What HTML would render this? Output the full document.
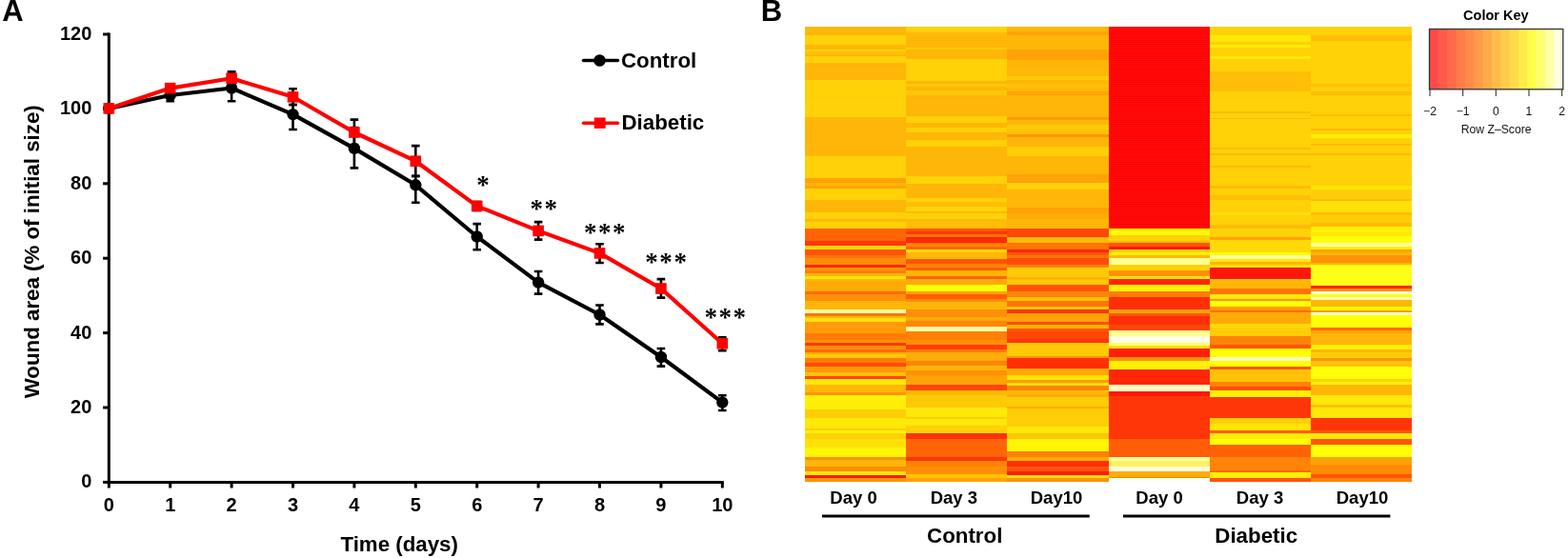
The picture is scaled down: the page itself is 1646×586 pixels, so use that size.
<!DOCTYPE html>
<html><head><meta charset="utf-8"><title>Wound healing figure</title>
<style>
html,body{margin:0;padding:0;background:#fff;width:1646px;height:586px;overflow:hidden}
svg{display:block}
text{font-family:"Liberation Sans",Arial,sans-serif;fill:#000}
.tk{font-size:20px;font-weight:bold}
.ax{font-size:22.3px;font-weight:bold}
.lg{font-size:22.3px;font-weight:bold}
.pl{font-size:31px;font-weight:bold}
.dl{font-size:18.5px;font-weight:bold}
.gl{font-size:22.3px;font-weight:bold}
.kt{font-size:12.2px;fill:#111}
.kh{font-size:14.5px;font-weight:bold}
.st{font-family:"Liberation Serif",serif;font-size:27px;font-weight:bold;letter-spacing:1.6px}
</style></head>
<body>
<svg width="1646" height="586" viewBox="0 0 1646 586">
<defs><pattern id="rows" x="0" y="27.8" width="8" height="1.91" patternUnits="userSpaceOnUse"><rect x="0" y="0" width="8" height="0.6" fill="#fff" fill-opacity="0.09"/></pattern></defs>
<g shape-rendering="crispEdges">
<rect x="845.0" y="27.8" width="106.2" height="4.3" fill="#ffb400"/>
<rect x="845.0" y="31.8" width="106.2" height="2.3" fill="#ffb800"/>
<rect x="845.0" y="33.8" width="106.2" height="3.2" fill="#ffb400"/>
<rect x="845.0" y="36.7" width="106.2" height="10.5" fill="#ffd000"/>
<rect x="845.0" y="46.9" width="106.2" height="5.8" fill="#ffb400"/>
<rect x="845.0" y="52.4" width="106.2" height="2.2" fill="#ffd000"/>
<rect x="845.0" y="54.3" width="106.2" height="2.7" fill="#ffc000"/>
<rect x="845.0" y="56.7" width="106.2" height="2.8" fill="#ffb400"/>
<rect x="845.0" y="59.2" width="106.2" height="7.1" fill="#ffd000"/>
<rect x="845.0" y="66.0" width="106.2" height="18.0" fill="#ffb400"/>
<rect x="845.0" y="83.7" width="106.2" height="39.2" fill="#ffd000"/>
<rect x="845.0" y="122.6" width="106.2" height="41.4" fill="#ffb400"/>
<rect x="845.0" y="163.7" width="106.2" height="23.9" fill="#ffd000"/>
<rect x="845.0" y="187.3" width="106.2" height="4.8" fill="#ffa000"/>
<rect x="845.0" y="191.8" width="106.2" height="3.3" fill="#ffb400"/>
<rect x="845.0" y="194.8" width="106.2" height="3.2" fill="#ffa000"/>
<rect x="845.0" y="197.7" width="106.2" height="13.0" fill="#ffd000"/>
<rect x="845.0" y="210.4" width="106.2" height="13.0" fill="#ffb400"/>
<rect x="845.0" y="223.1" width="106.2" height="7.2" fill="#ffd000"/>
<rect x="845.0" y="230.0" width="106.2" height="3.3" fill="#ffb800"/>
<rect x="845.0" y="233.0" width="106.2" height="7.1" fill="#ffd000"/>
<rect x="845.0" y="239.8" width="106.2" height="13.0" fill="#ff6000"/>
<rect x="845.0" y="252.5" width="106.2" height="6.2" fill="#ff3000"/>
<rect x="845.0" y="258.4" width="106.2" height="3.8" fill="#ffd400"/>
<rect x="845.0" y="261.9" width="106.2" height="6.4" fill="#ff5000"/>
<rect x="845.0" y="268.0" width="106.2" height="3.2" fill="#ff7000"/>
<rect x="845.0" y="270.9" width="106.2" height="7.1" fill="#ff8800"/>
<rect x="845.0" y="277.7" width="106.2" height="3.2" fill="#ff2000"/>
<rect x="845.0" y="280.6" width="106.2" height="3.3" fill="#ff9000"/>
<rect x="845.0" y="283.6" width="106.2" height="3.2" fill="#ff7800"/>
<rect x="845.0" y="286.5" width="106.2" height="3.3" fill="#ffb400"/>
<rect x="845.0" y="289.5" width="106.2" height="4.2" fill="#ffe000"/>
<rect x="845.0" y="293.4" width="106.2" height="2.2" fill="#ffb400"/>
<rect x="845.0" y="295.3" width="106.2" height="11.1" fill="#ffa800"/>
<rect x="845.0" y="306.1" width="106.2" height="3.2" fill="#ff6800"/>
<rect x="845.0" y="309.0" width="106.2" height="7.2" fill="#ff8c00"/>
<rect x="845.0" y="315.9" width="106.2" height="9.1" fill="#ffb400"/>
<rect x="845.0" y="324.7" width="106.2" height="4.2" fill="#ffffa0"/>
<rect x="845.0" y="328.6" width="106.2" height="3.2" fill="#ff7000"/>
<rect x="845.0" y="331.5" width="106.2" height="3.2" fill="#ffb400"/>
<rect x="845.0" y="334.4" width="106.2" height="4.3" fill="#ffe000"/>
<rect x="845.0" y="338.4" width="106.2" height="11.8" fill="#ff9800"/>
<rect x="845.0" y="349.9" width="106.2" height="7.1" fill="#ff7800"/>
<rect x="845.0" y="356.7" width="106.2" height="3.3" fill="#ff9000"/>
<rect x="845.0" y="359.7" width="106.2" height="3.6" fill="#ff3000"/>
<rect x="845.0" y="363.0" width="106.2" height="3.8" fill="#ff8c00"/>
<rect x="845.0" y="366.5" width="106.2" height="3.3" fill="#ff6400"/>
<rect x="845.0" y="369.5" width="106.2" height="3.2" fill="#ffa800"/>
<rect x="845.0" y="372.4" width="106.2" height="4.2" fill="#ffc800"/>
<rect x="845.0" y="376.3" width="106.2" height="5.2" fill="#ff7800"/>
<rect x="845.0" y="381.2" width="106.2" height="4.2" fill="#ff4800"/>
<rect x="845.0" y="385.1" width="106.2" height="6.2" fill="#ff9800"/>
<rect x="845.0" y="391.0" width="106.2" height="4.2" fill="#ffc000"/>
<rect x="845.0" y="394.9" width="106.2" height="3.2" fill="#ff4000"/>
<rect x="845.0" y="397.8" width="106.2" height="6.2" fill="#ffe800"/>
<rect x="845.0" y="403.7" width="106.2" height="8.1" fill="#ffb400"/>
<rect x="845.0" y="411.5" width="106.2" height="4.2" fill="#ff9000"/>
<rect x="845.0" y="415.4" width="106.2" height="14.8" fill="#ffee00"/>
<rect x="845.0" y="429.9" width="106.2" height="9.1" fill="#ffcc00"/>
<rect x="845.0" y="438.7" width="106.2" height="11.1" fill="#ffe800"/>
<rect x="845.0" y="449.5" width="106.2" height="3.2" fill="#ffc800"/>
<rect x="845.0" y="452.4" width="106.2" height="3.2" fill="#fff200"/>
<rect x="845.0" y="455.3" width="106.2" height="6.2" fill="#ffd000"/>
<rect x="845.0" y="461.2" width="106.2" height="9.1" fill="#ffe000"/>
<rect x="845.0" y="470.0" width="106.2" height="10.1" fill="#fff500"/>
<rect x="845.0" y="479.8" width="106.2" height="3.2" fill="#ff8c00"/>
<rect x="845.0" y="482.7" width="106.2" height="7.2" fill="#ffb400"/>
<rect x="845.0" y="489.6" width="106.2" height="6.1" fill="#ff8800"/>
<rect x="845.0" y="495.4" width="106.2" height="3.8" fill="#ffe800"/>
<rect x="845.0" y="498.9" width="106.2" height="3.7" fill="#ff1000"/>
<rect x="845.0" y="502.3" width="106.2" height="3.2" fill="#ff9000"/>
<rect x="951.2" y="27.8" width="106.1" height="6.9" fill="#ffd000"/>
<rect x="951.2" y="34.4" width="106.1" height="2.9" fill="#ffb800"/>
<rect x="951.2" y="37.0" width="106.1" height="3.0" fill="#ffb400"/>
<rect x="951.2" y="39.7" width="106.1" height="10.1" fill="#ffb400"/>
<rect x="951.2" y="49.5" width="106.1" height="3.2" fill="#ffc800"/>
<rect x="951.2" y="52.4" width="106.1" height="10.1" fill="#ffb400"/>
<rect x="951.2" y="62.2" width="106.1" height="22.8" fill="#ffd000"/>
<rect x="951.2" y="84.7" width="106.1" height="3.2" fill="#ffb400"/>
<rect x="951.2" y="87.6" width="106.1" height="3.2" fill="#ffc800"/>
<rect x="951.2" y="90.5" width="106.1" height="5.2" fill="#ffb400"/>
<rect x="951.2" y="95.4" width="106.1" height="5.2" fill="#ffc400"/>
<rect x="951.2" y="100.3" width="106.1" height="21.6" fill="#ffb400"/>
<rect x="951.2" y="121.6" width="106.1" height="7.2" fill="#ffd000"/>
<rect x="951.2" y="128.5" width="106.1" height="6.1" fill="#ffb400"/>
<rect x="951.2" y="134.3" width="106.1" height="4.6" fill="#ffd000"/>
<rect x="951.2" y="138.6" width="106.1" height="8.7" fill="#ffb400"/>
<rect x="951.2" y="147.0" width="106.1" height="7.2" fill="#ffd000"/>
<rect x="951.2" y="153.9" width="106.1" height="31.4" fill="#ffb400"/>
<rect x="951.2" y="185.0" width="106.1" height="8.1" fill="#ffd000"/>
<rect x="951.2" y="192.8" width="106.1" height="15.3" fill="#ffb400"/>
<rect x="951.2" y="207.8" width="106.1" height="4.6" fill="#ffd000"/>
<rect x="951.2" y="212.1" width="106.1" height="5.0" fill="#ffbc00"/>
<rect x="951.2" y="216.8" width="106.1" height="5.1" fill="#ffd400"/>
<rect x="951.2" y="221.6" width="106.1" height="2.7" fill="#ffb400"/>
<rect x="951.2" y="224.0" width="106.1" height="5.8" fill="#ffd000"/>
<rect x="951.2" y="229.5" width="106.1" height="3.4" fill="#ffb800"/>
<rect x="951.2" y="232.6" width="106.1" height="7.5" fill="#ffbc00"/>
<rect x="951.2" y="239.8" width="106.1" height="3.4" fill="#ff5000"/>
<rect x="951.2" y="242.9" width="106.1" height="3.5" fill="#ff3000"/>
<rect x="951.2" y="246.1" width="106.1" height="3.0" fill="#ff7000"/>
<rect x="951.2" y="248.8" width="106.1" height="6.9" fill="#ff2000"/>
<rect x="951.2" y="255.4" width="106.1" height="4.2" fill="#ff8000"/>
<rect x="951.2" y="259.3" width="106.1" height="2.9" fill="#ff6000"/>
<rect x="951.2" y="261.9" width="106.1" height="3.4" fill="#ffd800"/>
<rect x="951.2" y="265.0" width="106.1" height="7.1" fill="#ffb400"/>
<rect x="951.2" y="271.8" width="106.1" height="5.2" fill="#ff5000"/>
<rect x="951.2" y="276.7" width="106.1" height="4.2" fill="#ff8000"/>
<rect x="951.2" y="280.6" width="106.1" height="3.3" fill="#ff5800"/>
<rect x="951.2" y="283.6" width="106.1" height="7.1" fill="#ffb400"/>
<rect x="951.2" y="290.4" width="106.1" height="3.3" fill="#ff6000"/>
<rect x="951.2" y="293.4" width="106.1" height="6.1" fill="#ffa800"/>
<rect x="951.2" y="299.2" width="106.1" height="7.2" fill="#ffff00"/>
<rect x="951.2" y="306.1" width="106.1" height="3.2" fill="#ffa000"/>
<rect x="951.2" y="309.0" width="106.1" height="5.2" fill="#ff5800"/>
<rect x="951.2" y="313.9" width="106.1" height="3.2" fill="#ff8800"/>
<rect x="951.2" y="316.8" width="106.1" height="8.2" fill="#ffb400"/>
<rect x="951.2" y="324.7" width="106.1" height="8.1" fill="#ff8c00"/>
<rect x="951.2" y="332.5" width="106.1" height="5.2" fill="#ffa800"/>
<rect x="951.2" y="337.4" width="106.1" height="6.1" fill="#ff8000"/>
<rect x="951.2" y="343.2" width="106.1" height="5.1" fill="#ffffa0"/>
<rect x="951.2" y="348.0" width="106.1" height="8.9" fill="#ff7c00"/>
<rect x="951.2" y="356.6" width="106.1" height="6.1" fill="#ff8c00"/>
<rect x="951.2" y="362.4" width="106.1" height="4.4" fill="#ff3800"/>
<rect x="951.2" y="366.5" width="106.1" height="3.3" fill="#ff7800"/>
<rect x="951.2" y="369.5" width="106.1" height="10.0" fill="#ffaa00"/>
<rect x="951.2" y="379.2" width="106.1" height="5.2" fill="#ff8000"/>
<rect x="951.2" y="384.1" width="106.1" height="5.0" fill="#ffb400"/>
<rect x="951.2" y="388.8" width="106.1" height="5.4" fill="#ff8c00"/>
<rect x="951.2" y="393.9" width="106.1" height="10.6" fill="#ffa000"/>
<rect x="951.2" y="404.2" width="106.1" height="6.1" fill="#ff4000"/>
<rect x="951.2" y="410.0" width="106.1" height="5.7" fill="#ffb800"/>
<rect x="951.2" y="415.4" width="106.1" height="12.9" fill="#ffc800"/>
<rect x="951.2" y="428.0" width="106.1" height="10.0" fill="#ffe800"/>
<rect x="951.2" y="437.7" width="106.1" height="2.3" fill="#ffcc00"/>
<rect x="951.2" y="439.7" width="106.1" height="7.1" fill="#ffe800"/>
<rect x="951.2" y="446.5" width="106.1" height="8.8" fill="#ffd000"/>
<rect x="951.2" y="455.0" width="106.1" height="6.5" fill="#ff2c00"/>
<rect x="951.2" y="461.2" width="106.1" height="18.9" fill="#ff6000"/>
<rect x="951.2" y="479.8" width="106.1" height="4.2" fill="#ff3000"/>
<rect x="951.2" y="483.7" width="106.1" height="6.2" fill="#ff8000"/>
<rect x="951.2" y="489.6" width="106.1" height="9.1" fill="#ff8c00"/>
<rect x="951.2" y="498.4" width="106.1" height="4.2" fill="#ffc000"/>
<rect x="951.2" y="502.3" width="106.1" height="3.2" fill="#ffa000"/>
<rect x="1057.3" y="27.8" width="106.2" height="5.3" fill="#ffb400"/>
<rect x="1057.3" y="32.8" width="106.2" height="4.2" fill="#ffa000"/>
<rect x="1057.3" y="36.7" width="106.2" height="16.0" fill="#ffb400"/>
<rect x="1057.3" y="52.4" width="106.2" height="11.0" fill="#ffa000"/>
<rect x="1057.3" y="63.1" width="106.2" height="17.0" fill="#ffb400"/>
<rect x="1057.3" y="79.8" width="106.2" height="4.2" fill="#ffc800"/>
<rect x="1057.3" y="83.7" width="106.2" height="4.2" fill="#ffb400"/>
<rect x="1057.3" y="87.6" width="106.2" height="4.2" fill="#ffc000"/>
<rect x="1057.3" y="91.5" width="106.2" height="5.2" fill="#ffb400"/>
<rect x="1057.3" y="96.4" width="106.2" height="4.2" fill="#ffa000"/>
<rect x="1057.3" y="100.3" width="106.2" height="22.6" fill="#ffb400"/>
<rect x="1057.3" y="122.6" width="106.2" height="3.2" fill="#ff9800"/>
<rect x="1057.3" y="125.5" width="106.2" height="6.2" fill="#ffb400"/>
<rect x="1057.3" y="131.4" width="106.2" height="5.2" fill="#ffc800"/>
<rect x="1057.3" y="136.3" width="106.2" height="5.2" fill="#ffc000"/>
<rect x="1057.3" y="141.2" width="106.2" height="3.2" fill="#ff9000"/>
<rect x="1057.3" y="144.1" width="106.2" height="10.1" fill="#ffb400"/>
<rect x="1057.3" y="153.9" width="106.2" height="10.1" fill="#ffcc00"/>
<rect x="1057.3" y="163.7" width="106.2" height="19.8" fill="#ffb400"/>
<rect x="1057.3" y="183.2" width="106.2" height="8.9" fill="#ffa000"/>
<rect x="1057.3" y="191.8" width="106.2" height="7.2" fill="#ffd000"/>
<rect x="1057.3" y="198.7" width="106.2" height="19.9" fill="#ffb400"/>
<rect x="1057.3" y="218.3" width="106.2" height="6.1" fill="#ffa000"/>
<rect x="1057.3" y="224.1" width="106.2" height="6.2" fill="#ffa800"/>
<rect x="1057.3" y="230.0" width="106.2" height="10.1" fill="#ffb400"/>
<rect x="1057.3" y="239.8" width="106.2" height="9.1" fill="#ff4000"/>
<rect x="1057.3" y="248.6" width="106.2" height="7.1" fill="#ffb800"/>
<rect x="1057.3" y="255.4" width="106.2" height="7.2" fill="#ff7000"/>
<rect x="1057.3" y="262.3" width="106.2" height="3.0" fill="#ff2000"/>
<rect x="1057.3" y="265.0" width="106.2" height="3.3" fill="#ff5000"/>
<rect x="1057.3" y="268.0" width="106.2" height="3.2" fill="#ff7000"/>
<rect x="1057.3" y="270.9" width="106.2" height="7.1" fill="#ff4800"/>
<rect x="1057.3" y="277.7" width="106.2" height="3.2" fill="#ff8000"/>
<rect x="1057.3" y="280.6" width="106.2" height="11.1" fill="#ffc800"/>
<rect x="1057.3" y="291.4" width="106.2" height="3.2" fill="#ffb400"/>
<rect x="1057.3" y="294.3" width="106.2" height="5.2" fill="#ffc800"/>
<rect x="1057.3" y="299.2" width="106.2" height="7.2" fill="#ff5000"/>
<rect x="1057.3" y="306.1" width="106.2" height="6.2" fill="#ff8000"/>
<rect x="1057.3" y="312.0" width="106.2" height="4.2" fill="#ffc000"/>
<rect x="1057.3" y="315.9" width="106.2" height="6.1" fill="#ff7000"/>
<rect x="1057.3" y="321.7" width="106.2" height="3.3" fill="#ffc800"/>
<rect x="1057.3" y="324.7" width="106.2" height="4.2" fill="#ff3000"/>
<rect x="1057.3" y="328.6" width="106.2" height="10.1" fill="#ffa000"/>
<rect x="1057.3" y="338.4" width="106.2" height="3.2" fill="#ff4800"/>
<rect x="1057.3" y="341.3" width="106.2" height="4.0" fill="#ffb400"/>
<rect x="1057.3" y="345.0" width="106.2" height="3.3" fill="#ff5000"/>
<rect x="1057.3" y="348.0" width="106.2" height="8.1" fill="#ff4000"/>
<rect x="1057.3" y="355.8" width="106.2" height="4.2" fill="#ff3000"/>
<rect x="1057.3" y="359.7" width="106.2" height="14.9" fill="#ffc800"/>
<rect x="1057.3" y="374.3" width="106.2" height="2.3" fill="#ff9000"/>
<rect x="1057.3" y="376.3" width="106.2" height="11.1" fill="#ff2800"/>
<rect x="1057.3" y="387.1" width="106.2" height="7.1" fill="#ffa800"/>
<rect x="1057.3" y="393.9" width="106.2" height="5.2" fill="#ffe000"/>
<rect x="1057.3" y="398.8" width="106.2" height="3.2" fill="#ff9800"/>
<rect x="1057.3" y="401.7" width="106.2" height="3.3" fill="#ffe000"/>
<rect x="1057.3" y="404.7" width="106.2" height="5.2" fill="#ff8000"/>
<rect x="1057.3" y="409.6" width="106.2" height="4.7" fill="#ffb800"/>
<rect x="1057.3" y="414.0" width="106.2" height="2.8" fill="#ffa800"/>
<rect x="1057.3" y="416.5" width="106.2" height="10.8" fill="#ffcc00"/>
<rect x="1057.3" y="427.0" width="106.2" height="2.3" fill="#ffa800"/>
<rect x="1057.3" y="429.0" width="106.2" height="19.5" fill="#ffcc00"/>
<rect x="1057.3" y="448.2" width="106.2" height="7.4" fill="#ffe800"/>
<rect x="1057.3" y="455.3" width="106.2" height="5.5" fill="#ffc400"/>
<rect x="1057.3" y="460.5" width="106.2" height="13.7" fill="#fff400"/>
<rect x="1057.3" y="473.9" width="106.2" height="6.2" fill="#ff7c00"/>
<rect x="1057.3" y="479.8" width="106.2" height="4.2" fill="#ffa800"/>
<rect x="1057.3" y="483.7" width="106.2" height="6.2" fill="#ff2800"/>
<rect x="1057.3" y="489.6" width="106.2" height="6.1" fill="#ff5000"/>
<rect x="1057.3" y="495.4" width="106.2" height="3.8" fill="#ff1400"/>
<rect x="1057.3" y="498.9" width="106.2" height="3.7" fill="#ffe000"/>
<rect x="1057.3" y="502.3" width="106.2" height="3.2" fill="#ff9000"/>
<rect x="1163.5" y="27.8" width="106.4" height="212.3" fill="#ff0000"/>
<rect x="1163.5" y="239.8" width="106.4" height="7.1" fill="#fff800"/>
<rect x="1163.5" y="246.6" width="106.4" height="6.2" fill="#ffd000"/>
<rect x="1163.5" y="252.5" width="106.4" height="3.2" fill="#ffb400"/>
<rect x="1163.5" y="255.4" width="106.4" height="3.9" fill="#ff5000"/>
<rect x="1163.5" y="259.0" width="106.4" height="3.0" fill="#ff1000"/>
<rect x="1163.5" y="261.7" width="106.4" height="3.6" fill="#ffd000"/>
<rect x="1163.5" y="265.0" width="106.4" height="3.3" fill="#ffee00"/>
<rect x="1163.5" y="268.0" width="106.4" height="3.2" fill="#ffb400"/>
<rect x="1163.5" y="270.9" width="106.4" height="7.1" fill="#ffff90"/>
<rect x="1163.5" y="277.7" width="106.4" height="6.2" fill="#ffd000"/>
<rect x="1163.5" y="283.6" width="106.4" height="7.1" fill="#ff8c00"/>
<rect x="1163.5" y="290.4" width="106.4" height="3.3" fill="#ffe000"/>
<rect x="1163.5" y="293.4" width="106.4" height="6.1" fill="#ff2000"/>
<rect x="1163.5" y="299.2" width="106.4" height="7.2" fill="#fff000"/>
<rect x="1163.5" y="306.1" width="106.4" height="6.2" fill="#ff7800"/>
<rect x="1163.5" y="312.0" width="106.4" height="13.0" fill="#ff2800"/>
<rect x="1163.5" y="324.7" width="106.4" height="4.2" fill="#ffa000"/>
<rect x="1163.5" y="328.6" width="106.4" height="3.2" fill="#ff5000"/>
<rect x="1163.5" y="331.5" width="106.4" height="10.1" fill="#ff2800"/>
<rect x="1163.5" y="341.3" width="106.4" height="6.0" fill="#ff4000"/>
<rect x="1163.5" y="347.0" width="106.4" height="6.1" fill="#ffff90"/>
<rect x="1163.5" y="352.8" width="106.4" height="7.2" fill="#ffffe0"/>
<rect x="1163.5" y="359.7" width="106.4" height="3.2" fill="#ffff70"/>
<rect x="1163.5" y="362.6" width="106.4" height="3.2" fill="#ffe000"/>
<rect x="1163.5" y="365.5" width="106.4" height="10.1" fill="#ff1800"/>
<rect x="1163.5" y="375.3" width="106.4" height="3.6" fill="#ff9000"/>
<rect x="1163.5" y="378.6" width="106.4" height="9.7" fill="#fff000"/>
<rect x="1163.5" y="388.0" width="106.4" height="16.0" fill="#ff2000"/>
<rect x="1163.5" y="403.7" width="106.4" height="7.1" fill="#ffffc0"/>
<rect x="1163.5" y="410.5" width="106.4" height="6.2" fill="#ff1000"/>
<rect x="1163.5" y="416.4" width="106.4" height="45.1" fill="#ff3000"/>
<rect x="1163.5" y="461.2" width="106.4" height="18.9" fill="#ff5800"/>
<rect x="1163.5" y="479.8" width="106.4" height="4.2" fill="#ffffa0"/>
<rect x="1163.5" y="483.7" width="106.4" height="6.2" fill="#fff060"/>
<rect x="1163.5" y="489.6" width="106.4" height="6.1" fill="#ffffe0"/>
<rect x="1163.5" y="495.4" width="106.4" height="6.2" fill="#ffaa00"/>
<rect x="1163.5" y="501.3" width="106.4" height="1.3" fill="#ff8000"/>
<rect x="1163.5" y="502.3" width="106.4" height="3.2" fill="#fffff0"/>
<rect x="1269.9" y="27.8" width="106.1" height="9.2" fill="#ffd000"/>
<rect x="1269.9" y="36.7" width="106.1" height="7.2" fill="#ffe800"/>
<rect x="1269.9" y="43.6" width="106.1" height="3.2" fill="#ffd000"/>
<rect x="1269.9" y="46.5" width="106.1" height="3.8" fill="#ffea00"/>
<rect x="1269.9" y="50.0" width="106.1" height="9.5" fill="#ffd000"/>
<rect x="1269.9" y="59.2" width="106.1" height="3.3" fill="#ffe800"/>
<rect x="1269.9" y="62.2" width="106.1" height="13.0" fill="#ffd000"/>
<rect x="1269.9" y="74.9" width="106.1" height="21.8" fill="#ffbc00"/>
<rect x="1269.9" y="96.4" width="106.1" height="20.9" fill="#ffd000"/>
<rect x="1269.9" y="117.0" width="106.1" height="1.8" fill="#ffb800"/>
<rect x="1269.9" y="118.5" width="106.1" height="5.3" fill="#ffd000"/>
<rect x="1269.9" y="123.5" width="106.1" height="1.8" fill="#ffb800"/>
<rect x="1269.9" y="125.0" width="106.1" height="30.3" fill="#ffd000"/>
<rect x="1269.9" y="155.0" width="106.1" height="2.3" fill="#ffb800"/>
<rect x="1269.9" y="157.0" width="106.1" height="4.3" fill="#ffd000"/>
<rect x="1269.9" y="161.0" width="106.1" height="2.3" fill="#ffb800"/>
<rect x="1269.9" y="163.0" width="106.1" height="10.8" fill="#ffd000"/>
<rect x="1269.9" y="173.5" width="106.1" height="2.3" fill="#ffb800"/>
<rect x="1269.9" y="175.5" width="106.1" height="19.6" fill="#ffd000"/>
<rect x="1269.9" y="194.8" width="106.1" height="3.2" fill="#ffb800"/>
<rect x="1269.9" y="197.7" width="106.1" height="7.2" fill="#ffd000"/>
<rect x="1269.9" y="204.6" width="106.1" height="6.1" fill="#ffbc00"/>
<rect x="1269.9" y="210.4" width="106.1" height="13.0" fill="#ffd000"/>
<rect x="1269.9" y="223.1" width="106.1" height="3.3" fill="#ffe000"/>
<rect x="1269.9" y="226.1" width="106.1" height="10.1" fill="#ffd000"/>
<rect x="1269.9" y="235.9" width="106.1" height="4.2" fill="#ffb800"/>
<rect x="1269.9" y="239.8" width="106.1" height="9.1" fill="#ffd000"/>
<rect x="1269.9" y="248.6" width="106.1" height="3.2" fill="#ffa000"/>
<rect x="1269.9" y="251.5" width="106.1" height="13.8" fill="#ffd800"/>
<rect x="1269.9" y="265.0" width="106.1" height="2.9" fill="#ffff00"/>
<rect x="1269.9" y="267.6" width="106.1" height="4.2" fill="#ffffa0"/>
<rect x="1269.9" y="271.5" width="106.1" height="4.2" fill="#ffe800"/>
<rect x="1269.9" y="275.4" width="106.1" height="2.9" fill="#ffb400"/>
<rect x="1269.9" y="278.0" width="106.1" height="2.8" fill="#ffe000"/>
<rect x="1269.9" y="280.5" width="106.1" height="12.5" fill="#ff1000"/>
<rect x="1269.9" y="292.7" width="106.1" height="2.6" fill="#ffc000"/>
<rect x="1269.9" y="295.0" width="106.1" height="8.4" fill="#ffb400"/>
<rect x="1269.9" y="303.1" width="106.1" height="6.2" fill="#ff7000"/>
<rect x="1269.9" y="309.0" width="106.1" height="5.2" fill="#ffe800"/>
<rect x="1269.9" y="313.9" width="106.1" height="2.3" fill="#ff9000"/>
<rect x="1269.9" y="315.9" width="106.1" height="6.2" fill="#ffff00"/>
<rect x="1269.9" y="321.8" width="106.1" height="4.1" fill="#ff9800"/>
<rect x="1269.9" y="325.6" width="106.1" height="2.9" fill="#ff6800"/>
<rect x="1269.9" y="328.2" width="106.1" height="11.9" fill="#ffa800"/>
<rect x="1269.9" y="339.8" width="106.1" height="4.2" fill="#ffd800"/>
<rect x="1269.9" y="343.7" width="106.1" height="9.3" fill="#ffcc00"/>
<rect x="1269.9" y="352.7" width="106.1" height="9.2" fill="#ff8000"/>
<rect x="1269.9" y="361.6" width="106.1" height="4.2" fill="#ff5000"/>
<rect x="1269.9" y="365.5" width="106.1" height="10.1" fill="#ffff00"/>
<rect x="1269.9" y="375.3" width="106.1" height="4.2" fill="#ffffc0"/>
<rect x="1269.9" y="379.2" width="106.1" height="6.2" fill="#ffff00"/>
<rect x="1269.9" y="385.1" width="106.1" height="3.2" fill="#ff5000"/>
<rect x="1269.9" y="388.0" width="106.1" height="13.1" fill="#ffc000"/>
<rect x="1269.9" y="400.8" width="106.1" height="5.0" fill="#ff8000"/>
<rect x="1269.9" y="405.5" width="106.1" height="4.3" fill="#ff4800"/>
<rect x="1269.9" y="409.5" width="106.1" height="8.0" fill="#fff000"/>
<rect x="1269.9" y="417.2" width="106.1" height="22.1" fill="#ff3000"/>
<rect x="1269.9" y="439.0" width="106.1" height="6.1" fill="#ffcc00"/>
<rect x="1269.9" y="444.8" width="106.1" height="7.5" fill="#ffe400"/>
<rect x="1269.9" y="452.0" width="106.1" height="2.8" fill="#ff5800"/>
<rect x="1269.9" y="454.5" width="106.1" height="6.8" fill="#ffe800"/>
<rect x="1269.9" y="461.0" width="106.1" height="6.7" fill="#ffff00"/>
<rect x="1269.9" y="467.4" width="106.1" height="12.7" fill="#ff5c00"/>
<rect x="1269.9" y="479.8" width="106.1" height="14.0" fill="#ff8000"/>
<rect x="1269.9" y="493.5" width="106.1" height="3.2" fill="#ff6000"/>
<rect x="1269.9" y="496.4" width="106.1" height="6.2" fill="#fff000"/>
<rect x="1269.9" y="502.3" width="106.1" height="3.2" fill="#ff5000"/>
<rect x="1376.0" y="27.8" width="106.2" height="9.2" fill="#ffd000"/>
<rect x="1376.0" y="36.7" width="106.2" height="6.2" fill="#ffbc00"/>
<rect x="1376.0" y="42.6" width="106.2" height="45.3" fill="#ffd000"/>
<rect x="1376.0" y="87.6" width="106.2" height="3.2" fill="#ffc000"/>
<rect x="1376.0" y="90.5" width="106.2" height="6.2" fill="#ffd000"/>
<rect x="1376.0" y="96.4" width="106.2" height="4.2" fill="#ffbc00"/>
<rect x="1376.0" y="100.3" width="106.2" height="19.6" fill="#ffd000"/>
<rect x="1376.0" y="119.6" width="106.2" height="2.3" fill="#ffb800"/>
<rect x="1376.0" y="121.6" width="106.2" height="14.0" fill="#ffd000"/>
<rect x="1376.0" y="135.3" width="106.2" height="2.3" fill="#ffb800"/>
<rect x="1376.0" y="137.3" width="106.2" height="4.2" fill="#ffd000"/>
<rect x="1376.0" y="141.2" width="106.2" height="4.2" fill="#ffee00"/>
<rect x="1376.0" y="145.1" width="106.2" height="6.2" fill="#ffd000"/>
<rect x="1376.0" y="151.0" width="106.2" height="2.3" fill="#ffb800"/>
<rect x="1376.0" y="153.0" width="106.2" height="8.0" fill="#ffd000"/>
<rect x="1376.0" y="160.7" width="106.2" height="2.3" fill="#ffb800"/>
<rect x="1376.0" y="162.7" width="106.2" height="32.4" fill="#ffd000"/>
<rect x="1376.0" y="194.8" width="106.2" height="4.2" fill="#ffe400"/>
<rect x="1376.0" y="198.7" width="106.2" height="10.1" fill="#ffcc00"/>
<rect x="1376.0" y="208.5" width="106.2" height="3.2" fill="#ffb800"/>
<rect x="1376.0" y="211.4" width="106.2" height="12.0" fill="#ffe000"/>
<rect x="1376.0" y="223.1" width="106.2" height="3.3" fill="#ffb800"/>
<rect x="1376.0" y="226.1" width="106.2" height="8.1" fill="#ffcc00"/>
<rect x="1376.0" y="233.9" width="106.2" height="4.2" fill="#ffb800"/>
<rect x="1376.0" y="237.8" width="106.2" height="6.2" fill="#fff000"/>
<rect x="1376.0" y="243.7" width="106.2" height="4.2" fill="#ffe800"/>
<rect x="1376.0" y="247.6" width="106.2" height="8.1" fill="#ffff00"/>
<rect x="1376.0" y="255.4" width="106.2" height="3.9" fill="#ffffa0"/>
<rect x="1376.0" y="259.0" width="106.2" height="3.6" fill="#ffee00"/>
<rect x="1376.0" y="262.3" width="106.2" height="3.0" fill="#ffa000"/>
<rect x="1376.0" y="265.0" width="106.2" height="3.3" fill="#ffb400"/>
<rect x="1376.0" y="268.0" width="106.2" height="8.1" fill="#ff9000"/>
<rect x="1376.0" y="275.8" width="106.2" height="2.2" fill="#ffb400"/>
<rect x="1376.0" y="277.7" width="106.2" height="22.5" fill="#ffff10"/>
<rect x="1376.0" y="299.9" width="106.2" height="3.5" fill="#ff2000"/>
<rect x="1376.0" y="303.1" width="106.2" height="2.9" fill="#ff9000"/>
<rect x="1376.0" y="305.7" width="106.2" height="3.5" fill="#ffffe0"/>
<rect x="1376.0" y="308.9" width="106.2" height="3.5" fill="#ffff10"/>
<rect x="1376.0" y="312.1" width="106.2" height="3.5" fill="#ffffb0"/>
<rect x="1376.0" y="315.3" width="106.2" height="6.8" fill="#ffb400"/>
<rect x="1376.0" y="321.8" width="106.2" height="4.1" fill="#ffff00"/>
<rect x="1376.0" y="325.6" width="106.2" height="2.9" fill="#ff9800"/>
<rect x="1376.0" y="328.2" width="106.2" height="3.5" fill="#ffffd0"/>
<rect x="1376.0" y="331.4" width="106.2" height="12.6" fill="#ffff00"/>
<rect x="1376.0" y="343.7" width="106.2" height="3.5" fill="#ff6800"/>
<rect x="1376.0" y="346.9" width="106.2" height="3.5" fill="#ffa000"/>
<rect x="1376.0" y="350.1" width="106.2" height="12.6" fill="#ffb400"/>
<rect x="1376.0" y="362.4" width="106.2" height="4.8" fill="#ffee00"/>
<rect x="1376.0" y="366.9" width="106.2" height="3.5" fill="#ffb400"/>
<rect x="1376.0" y="370.1" width="106.2" height="6.1" fill="#ffcc00"/>
<rect x="1376.0" y="375.9" width="106.2" height="3.5" fill="#ff9000"/>
<rect x="1376.0" y="379.1" width="106.2" height="6.1" fill="#ffc000"/>
<rect x="1376.0" y="384.9" width="106.2" height="13.2" fill="#ffff00"/>
<rect x="1376.0" y="397.8" width="106.2" height="3.5" fill="#ffd000"/>
<rect x="1376.0" y="401.0" width="106.2" height="3.5" fill="#fff000"/>
<rect x="1376.0" y="404.2" width="106.2" height="11.5" fill="#ffb400"/>
<rect x="1376.0" y="415.4" width="106.2" height="9.9" fill="#ffe800"/>
<rect x="1376.0" y="425.0" width="106.2" height="3.3" fill="#ffc000"/>
<rect x="1376.0" y="428.0" width="106.2" height="11.0" fill="#ffe800"/>
<rect x="1376.0" y="438.7" width="106.2" height="13.6" fill="#ff3000"/>
<rect x="1376.0" y="452.0" width="106.2" height="3.4" fill="#ff5000"/>
<rect x="1376.0" y="455.1" width="106.2" height="6.4" fill="#ffe800"/>
<rect x="1376.0" y="461.2" width="106.2" height="6.2" fill="#ff5000"/>
<rect x="1376.0" y="467.1" width="106.2" height="13.0" fill="#ffff00"/>
<rect x="1376.0" y="479.8" width="106.2" height="8.1" fill="#ffa000"/>
<rect x="1376.0" y="487.6" width="106.2" height="11.1" fill="#ff8800"/>
<rect x="1376.0" y="498.4" width="106.2" height="4.2" fill="#ff5000"/>
<rect x="1376.0" y="502.3" width="106.2" height="3.2" fill="#ff8000"/>
</g>
<rect x="845" y="27.8" width="637.2" height="477.4" fill="url(#rows)"/>
<path d="M114.3,34.5V506.4H759.8" fill="none" stroke="#000" stroke-width="3"/><line x1="108.1" y1="506.4" x2="114.3" y2="506.4" stroke="#000" stroke-width="3"/><text x="96.3" y="512.3" class="tk" text-anchor="end">0</text><line x1="108.1" y1="428.0" x2="114.3" y2="428.0" stroke="#000" stroke-width="3"/><text x="96.3" y="433.9" class="tk" text-anchor="end">20</text><line x1="108.1" y1="349.6" x2="114.3" y2="349.6" stroke="#000" stroke-width="3"/><text x="96.3" y="355.5" class="tk" text-anchor="end">40</text><line x1="108.1" y1="271.2" x2="114.3" y2="271.2" stroke="#000" stroke-width="3"/><text x="96.3" y="277.1" class="tk" text-anchor="end">60</text><line x1="108.1" y1="192.8" x2="114.3" y2="192.8" stroke="#000" stroke-width="3"/><text x="96.3" y="198.7" class="tk" text-anchor="end">80</text><line x1="108.1" y1="114.4" x2="114.3" y2="114.4" stroke="#000" stroke-width="3"/><text x="96.3" y="120.3" class="tk" text-anchor="end">100</text><line x1="108.1" y1="36.0" x2="114.3" y2="36.0" stroke="#000" stroke-width="3"/><text x="96.3" y="41.9" class="tk" text-anchor="end">120</text><line x1="114.3" y1="506.4" x2="114.3" y2="512.5" stroke="#000" stroke-width="3"/><text x="114.3" y="537" class="tk" text-anchor="middle">0</text><line x1="178.7" y1="506.4" x2="178.7" y2="512.5" stroke="#000" stroke-width="3"/><text x="178.7" y="537" class="tk" text-anchor="middle">1</text><line x1="243.1" y1="506.4" x2="243.1" y2="512.5" stroke="#000" stroke-width="3"/><text x="243.1" y="537" class="tk" text-anchor="middle">2</text><line x1="307.5" y1="506.4" x2="307.5" y2="512.5" stroke="#000" stroke-width="3"/><text x="307.5" y="537" class="tk" text-anchor="middle">3</text><line x1="371.9" y1="506.4" x2="371.9" y2="512.5" stroke="#000" stroke-width="3"/><text x="371.9" y="537" class="tk" text-anchor="middle">4</text><line x1="436.3" y1="506.4" x2="436.3" y2="512.5" stroke="#000" stroke-width="3"/><text x="436.3" y="537" class="tk" text-anchor="middle">5</text><line x1="500.7" y1="506.4" x2="500.7" y2="512.5" stroke="#000" stroke-width="3"/><text x="500.7" y="537" class="tk" text-anchor="middle">6</text><line x1="565.1" y1="506.4" x2="565.1" y2="512.5" stroke="#000" stroke-width="3"/><text x="565.1" y="537" class="tk" text-anchor="middle">7</text><line x1="629.5" y1="506.4" x2="629.5" y2="512.5" stroke="#000" stroke-width="3"/><text x="629.5" y="537" class="tk" text-anchor="middle">8</text><line x1="693.9" y1="506.4" x2="693.9" y2="512.5" stroke="#000" stroke-width="3"/><text x="693.9" y="537" class="tk" text-anchor="middle">9</text><line x1="758.3" y1="506.4" x2="758.3" y2="512.5" stroke="#000" stroke-width="3"/><text x="758.3" y="537" class="tk" text-anchor="middle">10</text><path d="M178.7,96.0V106.3M174.4,96.0H183.0M174.4,106.3H183.0" stroke="#000" stroke-width="2.6" fill="none"/><path d="M243.1,75.2V106.3M238.8,75.2H247.4M238.8,106.3H247.4" stroke="#000" stroke-width="2.6" fill="none"/><path d="M307.5,110.0V136.0M303.2,110.0H311.8M303.2,136.0H311.8" stroke="#000" stroke-width="2.6" fill="none"/><path d="M371.9,134.0V176.4M367.6,134.0H376.2M367.6,176.4H376.2" stroke="#000" stroke-width="2.6" fill="none"/><path d="M436.3,184.9V212.8M432.0,184.9H440.6M432.0,212.8H440.6" stroke="#000" stroke-width="2.6" fill="none"/><path d="M500.7,235.1V262.3M496.4,235.1H505.0M496.4,262.3H505.0" stroke="#000" stroke-width="2.6" fill="none"/><path d="M565.1,285.0V308.6M560.8,285.0H569.4M560.8,308.6H569.4" stroke="#000" stroke-width="2.6" fill="none"/><path d="M629.5,320.5V340.4M625.2,320.5H633.8M625.2,340.4H633.8" stroke="#000" stroke-width="2.6" fill="none"/><path d="M693.9,366.0V384.6M689.6,366.0H698.2M689.6,384.6H698.2" stroke="#000" stroke-width="2.6" fill="none"/><path d="M758.3,415.2V431.0M754.0,415.2H762.6M754.0,431.0H762.6" stroke="#000" stroke-width="2.6" fill="none"/><polyline points="114.3,113.9 178.7,100.0 243.1,92.5 307.5,120.1 371.9,155.9 436.3,194.3 500.7,248.5 565.1,296.6 629.5,330.5 693.9,375.0 758.3,422.6" fill="none" stroke="#000" stroke-width="4.2" stroke-linejoin="round"/><circle cx="114.3" cy="113.9" r="6.2" fill="#000"/><circle cx="178.7" cy="100.0" r="6.2" fill="#000"/><circle cx="243.1" cy="92.5" r="6.2" fill="#000"/><circle cx="307.5" cy="120.1" r="6.2" fill="#000"/><circle cx="371.9" cy="155.9" r="6.2" fill="#000"/><circle cx="436.3" cy="194.3" r="6.2" fill="#000"/><circle cx="500.7" cy="248.5" r="6.2" fill="#000"/><circle cx="565.1" cy="296.6" r="6.2" fill="#000"/><circle cx="629.5" cy="330.5" r="6.2" fill="#000"/><circle cx="693.9" cy="375.0" r="6.2" fill="#000"/><circle cx="758.3" cy="422.6" r="6.2" fill="#000"/><path d="M178.7,89.0V96.0M174.4,89.0H183.0M174.4,96.0H183.0" stroke="#000" stroke-width="2.6" fill="none"/><path d="M243.1,76.0V88.0M238.8,76.0H247.4M238.8,88.0H247.4" stroke="#000" stroke-width="2.6" fill="none"/><path d="M307.5,93.3V110.0M303.2,93.3H311.8M303.2,110.0H311.8" stroke="#000" stroke-width="2.6" fill="none"/><path d="M371.9,125.6V152.0M367.6,125.6H376.2M367.6,152.0H376.2" stroke="#000" stroke-width="2.6" fill="none"/><path d="M436.3,153.1V185.0M432.0,153.1H440.6M432.0,185.0H440.6" stroke="#000" stroke-width="2.6" fill="none"/><path d="M500.7,212.0V221.0M496.4,212.0H505.0M496.4,221.0H505.0" stroke="#000" stroke-width="2.6" fill="none"/><path d="M565.1,233.1V251.6M560.8,233.1H569.4M560.8,251.6H569.4" stroke="#000" stroke-width="2.6" fill="none"/><path d="M629.5,256.3V276.0M625.2,256.3H633.8M625.2,276.0H633.8" stroke="#000" stroke-width="2.6" fill="none"/><path d="M693.9,293.1V312.6M689.6,293.1H698.2M689.6,312.6H698.2" stroke="#000" stroke-width="2.6" fill="none"/><path d="M758.3,354.3V368.2M754.0,354.3H762.6M754.0,368.2H762.6" stroke="#000" stroke-width="2.6" fill="none"/><polyline points="114.3,113.9 178.7,92.6 243.1,82.3 307.5,101.8 371.9,139.0 436.3,169.2 500.7,216.4 565.1,242.4 629.5,265.9 693.9,303.0 758.3,360.8" fill="none" stroke="#f00" stroke-width="4.2" stroke-linejoin="round"/><rect x="108.5" y="108.1" width="11.6" height="11.6" fill="#f00"/><rect x="172.9" y="86.8" width="11.6" height="11.6" fill="#f00"/><rect x="237.3" y="76.5" width="11.6" height="11.6" fill="#f00"/><rect x="301.7" y="96.0" width="11.6" height="11.6" fill="#f00"/><rect x="366.1" y="133.2" width="11.6" height="11.6" fill="#f00"/><rect x="430.5" y="163.4" width="11.6" height="11.6" fill="#f00"/><rect x="494.9" y="210.6" width="11.6" height="11.6" fill="#f00"/><rect x="559.3" y="236.6" width="11.6" height="11.6" fill="#f00"/><rect x="623.7" y="260.1" width="11.6" height="11.6" fill="#f00"/><rect x="688.1" y="297.2" width="11.6" height="11.6" fill="#f00"/><rect x="752.5" y="355.0" width="11.6" height="11.6" fill="#f00"/><text x="500.3" y="203.2" class="st">*</text><text x="556.5" y="227.5" class="st">**</text><text x="612.9" y="252.8" class="st">***</text><text x="677.2" y="283.6" class="st">***</text><text x="739.4" y="341.9" class="st">***</text><line x1="612.5" y1="63.5" x2="648.5" y2="63.5" stroke="#000" stroke-width="3.4" stroke-linecap="round"/><circle cx="629.5" cy="63.5" r="6.3" fill="#000"/><text x="652" y="70.6" class="lg">Control</text><line x1="612.5" y1="129.2" x2="648.5" y2="129.2" stroke="#f00" stroke-width="3.4" stroke-linecap="round"/><rect x="623.8" y="123.5" width="11.8" height="11.4" fill="#f00"/><text x="652.5" y="135.7" class="lg">Diabetic</text><text x="419.2" y="578.7" class="ax" text-anchor="middle">Time (days)</text><text transform="translate(41.3,264.3) rotate(-90)" class="ax" text-anchor="middle">Wound area (% of initial size)</text><text x="2.3" y="21.9" class="pl">A</text><text x="798.8" y="21.6" class="pl">B</text>
<text x="896" y="528.9" class="dl" text-anchor="middle">Day 0</text><text x="1001.4" y="528.9" class="dl" text-anchor="middle">Day 3</text><text x="1109" y="528.9" class="dl" text-anchor="middle">Day10</text><text x="1217" y="528.9" class="dl" text-anchor="middle">Day 0</text><text x="1322.5" y="528.9" class="dl" text-anchor="middle">Day 3</text><text x="1430" y="528.9" class="dl" text-anchor="middle">Day10</text><line x1="863" y1="541.9" x2="1143.7" y2="541.9" stroke="#000" stroke-width="3"/><line x1="1179" y1="541.9" x2="1459.4" y2="541.9" stroke="#000" stroke-width="3"/><text x="1012.7" y="570.2" class="gl" text-anchor="middle">Control</text><text x="1318.7" y="569.9" class="gl" text-anchor="middle">Diabetic</text>
<rect x="1500.50" y="30.5" width="10.15" height="63.3" fill="#ff4a4a"/><rect x="1509.85" y="30.5" width="10.15" height="63.3" fill="#ff5b4a"/><rect x="1519.21" y="30.5" width="10.15" height="63.3" fill="#ff6b4a"/><rect x="1528.56" y="30.5" width="10.15" height="63.3" fill="#ff7b4a"/><rect x="1537.91" y="30.5" width="10.15" height="63.3" fill="#ff8b4a"/><rect x="1547.27" y="30.5" width="10.15" height="63.3" fill="#ff9b4a"/><rect x="1556.62" y="30.5" width="10.15" height="63.3" fill="#ffab4a"/><rect x="1565.97" y="30.5" width="10.15" height="63.3" fill="#ffbb4a"/><rect x="1575.33" y="30.5" width="10.15" height="63.3" fill="#ffcb4a"/><rect x="1584.68" y="30.5" width="10.15" height="63.3" fill="#ffdb4a"/><rect x="1594.03" y="30.5" width="10.15" height="63.3" fill="#ffeb4a"/><rect x="1603.39" y="30.5" width="10.15" height="63.3" fill="#ffff4a"/><rect x="1612.74" y="30.5" width="10.15" height="63.3" fill="#ffff72"/><rect x="1622.09" y="30.5" width="10.15" height="63.3" fill="#ffffa8"/><rect x="1631.45" y="30.5" width="9.35" height="63.3" fill="#ffffe2"/><rect x="1500.5" y="30.5" width="140.29999999999995" height="63.3" fill="none" stroke="#333" stroke-width="1.3"/><line x1="1501.0" y1="93.8" x2="1501.0" y2="101" stroke="#222" stroke-width="1"/><text x="1501.0" y="120.6" class="kt" text-anchor="middle">−2</text><line x1="1535.7" y1="93.8" x2="1535.7" y2="101" stroke="#222" stroke-width="1"/><text x="1535.7" y="120.6" class="kt" text-anchor="middle">−1</text><line x1="1570.3" y1="93.8" x2="1570.3" y2="101" stroke="#222" stroke-width="1"/><text x="1570.3" y="120.6" class="kt" text-anchor="middle">0</text><line x1="1605.0" y1="93.8" x2="1605.0" y2="101" stroke="#222" stroke-width="1"/><text x="1605.0" y="120.6" class="kt" text-anchor="middle">1</text><line x1="1639.7" y1="93.8" x2="1639.7" y2="101" stroke="#222" stroke-width="1"/><text x="1639.7" y="120.6" class="kt" text-anchor="middle">2</text><text x="1570.6" y="139.9" class="kt" text-anchor="middle">Row Z–Score</text><text x="1570.3" y="20.5" class="kh" text-anchor="middle">Color Key</text>
</svg>
</body></html>
